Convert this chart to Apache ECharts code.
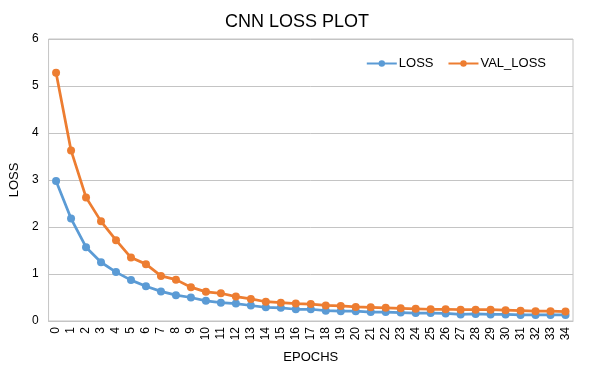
<!DOCTYPE html>
<html>
<head>
<meta charset="utf-8">
<script src="https://cdn.jsdelivr.net/npm/echarts@6/dist/echarts.min.js"></script>
<style>
  html, body { margin: 0; padding: 0; background: #fff; }
  #chart { width: 594px; height: 373px; }
</style>
</head>
<body>
<div id="chart"></div>
<script>
const epochs = []
for (let i = 0; i <= 34; i++) epochs.push(String(i))

const loss = [2.98, 2.18, 1.57, 1.25, 1.04, 0.87, 0.74, 0.63, 0.55, 0.50,
  0.43, 0.39, 0.37, 0.33, 0.29, 0.28, 0.25, 0.25, 0.22, 0.21,
  0.21, 0.19, 0.19, 0.18, 0.17, 0.17, 0.16, 0.14, 0.15, 0.14,
  0.14, 0.13, 0.13, 0.13, 0.13]

const valLoss = [5.28, 3.63, 2.63, 2.12, 1.72, 1.35, 1.21, 0.96, 0.88, 0.72,
  0.62, 0.59, 0.52, 0.47, 0.41, 0.39, 0.37, 0.36, 0.33, 0.32,
  0.30, 0.29, 0.28, 0.27, 0.26, 0.25, 0.25, 0.24, 0.24, 0.24,
  0.23, 0.22, 0.21, 0.21, 0.20]

const yTicks = { min: 0, max: 6, interval: 1 }

const chart = echarts.init(document.getElementById('chart'))
const font = 'Liberation Sans, Arial, sans-serif'

function lineSeries (name, data, color) {
  return {
    name: name,
    type: 'line',
    data: data,
    symbol: 'circle',
    symbolSize: 8,
    showAllSymbol: true,
    lineStyle: { color: color, width: 2.75 },
    itemStyle: { color: color },
    animation: false
  }
}

chart.setOption({
  textStyle: { fontFamily: font },
  title: {
    text: 'CNN LOSS PLOT',
    left: 'center',
    top: 8,
    textStyle: { fontFamily: font, fontSize: 18, fontWeight: 'normal', color: '#000' }
  },
  legend: {
    data: ['LOSS', 'VAL_LOSS'],
    right: 43,
    top: 52,
    itemWidth: 30,
    itemHeight: 8,
    itemGap: 14,
    textStyle: { fontFamily: font, fontSize: 13, color: '#000', padding: [0, 0, 0, -3] }
  },
  grid: {
    left: 47,
    right: 21,
    top: 39,
    bottom: 52,
    show: true,
    borderColor: '#c4c4c4',
    borderWidth: 1
  },
  xAxis: {
    type: 'category',
    data: epochs,
    boundaryGap: true,
    name: 'EPOCHS',
    nameLocation: 'middle',
    nameGap: 30,
    nameTextStyle: { fontFamily: font, fontSize: 13, color: '#000' },
    axisLine: { lineStyle: { color: '#c4c4c4' } },
    axisTick: { show: false },
    axisLabel: { interval: 0, rotate: 90, fontSize: 12, color: '#000', margin: 6 },
  },
  yAxis: {
    type: 'value',
    min: yTicks.min,
    max: yTicks.max,
    interval: yTicks.interval,
    name: 'LOSS',
    nameLocation: 'middle',
    nameGap: 24,
    nameTextStyle: { fontFamily: font, fontSize: 13, color: '#000' },
    axisLine: { show: false },
    axisTick: { show: false },
    axisLabel: { fontSize: 12, color: '#000', margin: 10 },
    splitLine: { lineStyle: { color: '#c4c4c4' } }
  },
  series: [
    lineSeries('LOSS', loss, '#5B9BD5'),
    lineSeries('VAL_LOSS', valLoss, '#ED7D31')
  ]
})
</script>
</body>
</html>
